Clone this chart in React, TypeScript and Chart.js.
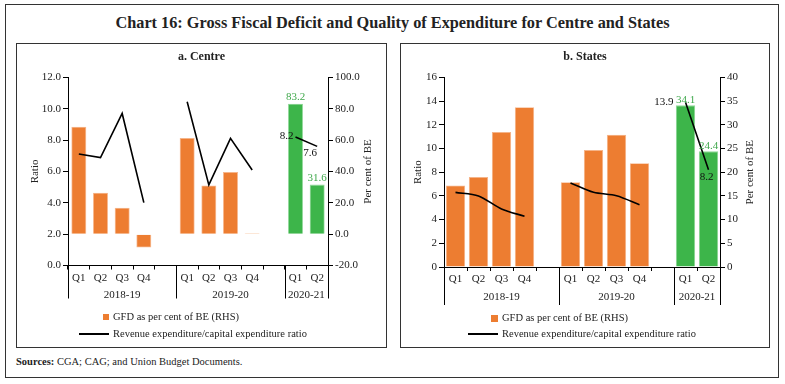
import React, { useEffect, useRef } from 'react';
import { Chart, registerables } from 'chart.js';

Chart.register(...registerables);

// ---------------- DATA ----------------
const quarters = ['Q1', 'Q2', 'Q3', 'Q4', '', 'Q1', 'Q2', 'Q3', 'Q4', '', 'Q1', 'Q2'];
const yearGroups = ['2018-19', '2019-20', '2020-21'];
const yearSpans = [5, 5, 2];

const centreGFD = [68.5, 26.4, 16.8, -8.5, null, 61.3, 31.1, 39.6, 0.6, null, 83.2, 31.6];
const centreRatio = [7.11, 6.88, 9.7, 4.01, null, 10.45, 5.14, 8.11, 6.09, null, 8.2, 7.6];

const statesGFD = [17.2, 19.0, 28.5, 33.7, null, 17.9, 24.7, 27.9, 21.9, null, 34.1, 24.4];
const statesRatio = [6.3, 6.0, 4.9, 4.28, null, 7.09, 6.3, 6.02, 5.26, null, 13.9, 8.2];

const centreLeftTicks = [0, 2, 4, 6, 8, 10, 12];
const centreRightTicks = [-20, 0, 20, 40, 60, 80, 100];
const statesLeftTicks = [0, 2, 4, 6, 8, 10, 12, 14, 16];
const statesRightTicks = [0, 5, 10, 15, 20, 25, 30, 35, 40];

const ORANGE = '#ED7D31';
const GREEN = '#3DB54A';
const GREEN_TEXT = '#3FA84B';
const FONT = "'Liberation Serif', 'Times New Roman', serif";

const barColors = quarters.map((_, i) => (i >= 10 ? GREEN : ORANGE));
const barBorders = quarters.map((_, i) => (i >= 10 ? '#8fd897' : '#f6b58a'));

type LineLabel = { i: number; dx: number; dy: number; align: CanvasTextAlign };

type PanelCfg = {
  title: string;
  gfd: (number | null)[];
  ratio: (number | null)[];
  leftTicks: number[];
  rightTicks: number[];
  leftDecimals: number;
  left: number;
  width: number;
  plotLeft: number;
  plotRight: number;
  plotBottom: number;
  barPct: number;
  tension: number;
  barLabelGap: number;
  lineLabels: LineLabel[];
  sepLen: number;
  yearY: number;
  leftTitlePad: number;
  rightTitleX: number;
  legendMarkerRight: number;
  legendSquare: number;
  legendY1: number;
  legendY2: number;
};

const PANEL_TOP = 43;
const PANEL_H = 305;

const groupPlugin = (cfg: PanelCfg) => ({
  id: 'groups',
  afterDraw(chart: any) {
    const ctx = chart.ctx as CanvasRenderingContext2D;
    const x = chart.scales.x;
    const area = chart.chartArea;
    const bounds: number[] = [0];
    yearSpans.forEach((s) => bounds.push(bounds[bounds.length - 1] + s));
    const px = (k: number) => {
      if (k <= 0) return x.left;
      if (k >= quarters.length) return x.right;
      return (x.getPixelForValue(k - 1) + x.getPixelForValue(k)) / 2;
    };
    ctx.save();
    ctx.strokeStyle = '#000';
    ctx.lineWidth = 1;
    bounds.forEach((k) => {
      const p = Math.round(px(k)) + 0.5;
      ctx.beginPath();
      ctx.moveTo(p, area.bottom);
      ctx.lineTo(p, area.bottom + cfg.sepLen);
      ctx.stroke();
    });
    ctx.fillStyle = '#222';
    ctx.font = `11px ${FONT}`;
    ctx.textAlign = 'center';
    ctx.textBaseline = 'middle';
    yearGroups.forEach((g, j) => {
      const c = (px(bounds[j]) + px(bounds[j + 1])) / 2;
      ctx.fillText(g, c, area.bottom + cfg.yearY);
    });

    // right axis title, reading bottom-to-top
    ctx.save();
    ctx.translate(cfg.rightTitleX, (area.top + area.bottom) / 2);
    ctx.rotate(-Math.PI / 2);
    ctx.textAlign = 'center';
    ctx.fillText('Per cent of BE', 0, 0);
    ctx.restore();

    // data labels
    const barMeta = chart.getDatasetMeta(0);
    ctx.fillStyle = GREEN_TEXT;
    [10, 11].forEach((i) => {
      const el = barMeta.data[i];
      const v = cfg.gfd[i];
      if (!el || v == null) return;
      ctx.textAlign = 'center';
      ctx.fillText(v.toFixed(1), el.x, el.y - cfg.barLabelGap);
    });
    const lineMeta = chart.getDatasetMeta(1);
    ctx.fillStyle = '#111';
    cfg.lineLabels.forEach((l) => {
      const el = lineMeta.data[l.i];
      const v = cfg.ratio[l.i];
      if (!el || v == null) return;
      ctx.textAlign = l.align;
      ctx.fillText(v.toFixed(1), el.x + l.dx, el.y + l.dy);
    });
    ctx.restore();
  },
});

function Panel({ cfg }: { cfg: PanelCfg }) {
  const ref = useRef<HTMLCanvasElement | null>(null);
  useEffect(() => {
    if (!ref.current) return;
    const tickFont = { family: FONT, size: 11 };
    const chart = new Chart(ref.current, {
      type: 'bar',
      data: {
        labels: quarters,
        datasets: [
          {
            type: 'bar',
            label: 'GFD as per cent of BE (RHS)',
            data: cfg.gfd as any,
            yAxisID: 'y1',
            backgroundColor: barColors,
            borderColor: barBorders,
            borderWidth: 0.8,
            barPercentage: cfg.barPct,
            categoryPercentage: 1,
            order: 2,
          } as any,
          {
            type: 'line',
            label: 'Revenue expenditure/capital expenditure ratio',
            data: cfg.ratio as any,
            yAxisID: 'y',
            borderColor: '#000',
            borderWidth: 1.6,
            pointRadius: 0,
            tension: cfg.tension,
            spanGaps: false,
            order: 1,
          } as any,
        ],
      },
      options: {
        animation: false,
        responsive: false,
        maintainAspectRatio: false,
        layout: { padding: 0 },
        plugins: {
          legend: { display: false },
          tooltip: { enabled: false },
          title: {
            display: true,
            text: cfg.title,
            color: '#222',
            font: { family: FONT, size: 12, weight: 'bold' },
            padding: { top: 7, bottom: 13 },
          },
        },
        scales: {
          x: {
            type: 'category',
            offset: true,
            grid: {
              offset: true,
              drawOnChartArea: false,
              drawTicks: true,
              tickLength: 4,
              color: '#000',
            },
            border: { color: '#000', width: 1 },
            ticks: {
              font: tickFont,
              color: '#222',
              padding: 2,
              maxRotation: 0,
              autoSkip: false,
            },
            afterFit: (s: any) => {
              s.height = PANEL_H - cfg.plotBottom;
            },
          },
          y: {
            position: 'left',
            min: cfg.leftTicks[0],
            max: cfg.leftTicks[cfg.leftTicks.length - 1],
            afterBuildTicks: (s: any) => {
              s.ticks = cfg.leftTicks.map((v) => ({ value: v }));
            },
            grid: { drawOnChartArea: false, drawTicks: true, tickLength: 5, color: '#000' },
            border: { color: '#000', width: 1 },
            ticks: {
              font: tickFont,
              color: '#222',
              padding: 2,
              callback: (v: any) => Number(v).toFixed(cfg.leftDecimals),
            },
            title: {
              display: true,
              text: 'Ratio',
              font: tickFont,
              color: '#222',
              padding: { top: cfg.leftTitlePad, bottom: 0 },
            },
            afterFit: (s: any) => {
              s.width = cfg.plotLeft;
            },
          },
          y1: {
            position: 'right',
            min: cfg.rightTicks[0],
            max: cfg.rightTicks[cfg.rightTicks.length - 1],
            afterBuildTicks: (s: any) => {
              s.ticks = cfg.rightTicks.map((v) => ({ value: v }));
            },
            grid: { drawOnChartArea: false, drawTicks: true, tickLength: 5, color: '#000' },
            border: { color: '#000', width: 1 },
            ticks: {
              font: tickFont,
              color: '#222',
              padding: 2,
              callback: (v: any) => Number(v).toFixed(cfg.leftDecimals),
            },
            afterFit: (s: any) => {
              s.width = cfg.width - cfg.plotRight;
            },
          },
        },
      } as any,
      plugins: [groupPlugin(cfg)],
    });
    return () => chart.destroy();
  }, [cfg]);

  const textStyle: React.CSSProperties = {
    position: 'absolute',
    left: cfg.legendMarkerRight + 4,
    fontFamily: FONT,
    fontSize: 10.5,
    color: '#222',
    whiteSpace: 'nowrap',
    lineHeight: '12px',
  };

  return (
    <div
      style={{
        position: 'absolute',
        left: cfg.left,
        top: PANEL_TOP,
        width: cfg.width,
        height: PANEL_H,
      }}
    >
      <canvas
        ref={ref}
        width={cfg.width}
        height={PANEL_H}
        style={{ position: 'absolute', left: 0, top: 0, width: cfg.width, height: PANEL_H }}
      />
      <div
        style={{
          position: 'absolute',
          left: 0,
          top: 0,
          width: cfg.width,
          height: PANEL_H,
          border: '1px solid #333',
          boxSizing: 'border-box',
          pointerEvents: 'none',
        }}
      />
      <div
        style={{
          position: 'absolute',
          left: cfg.legendMarkerRight - cfg.legendSquare,
          top: cfg.legendY1 - cfg.legendSquare / 2,
          width: cfg.legendSquare,
          height: cfg.legendSquare,
          background: ORANGE,
        }}
      />
      <div style={{ ...textStyle, top: cfg.legendY1 - 6 }}>GFD as per cent of BE (RHS)</div>
      <div
        style={{
          position: 'absolute',
          left: cfg.legendMarkerRight - 30,
          top: cfg.legendY2 - 1,
          width: 30,
          height: 2,
          background: '#000',
        }}
      />
      <div style={{ ...textStyle, top: cfg.legendY2 - 6 }}>
        Revenue expenditure/capital expenditure ratio
      </div>
    </div>
  );
}

const centreCfg: PanelCfg = {
  title: 'a. Centre',
  gfd: centreGFD,
  ratio: centreRatio,
  leftTicks: centreLeftTicks,
  rightTicks: centreRightTicks,
  leftDecimals: 1,
  left: 16,
  width: 371,
  plotLeft: 52,
  plotRight: 312,
  plotBottom: 222.5,
  barPct: 0.69,
  tension: 0,
  barLabelGap: 7,
  lineLabels: [
    { i: 10, dx: -2, dy: -1, align: 'right' },
    { i: 11, dx: -7, dy: 7, align: 'center' },
  ],
  sepLen: 33,
  yearY: 30,
  leftTitlePad: 13,
  rightTitleX: 352,
  legendMarkerRight: 93,
  legendSquare: 6,
  legendY1: 274,
  legendY2: 291,
};

const statesCfg: PanelCfg = {
  title: 'b. States',
  gfd: statesGFD,
  ratio: statesRatio,
  leftTicks: statesLeftTicks,
  rightTicks: statesRightTicks,
  leftDecimals: 0,
  left: 400,
  width: 370,
  plotLeft: 44,
  plotRight: 320,
  plotBottom: 224,
  barPct: 0.84,
  tension: 0.3,
  barLabelGap: 5,
  lineLabels: [
    { i: 10, dx: -12, dy: 0, align: 'right' },
    { i: 11, dx: -2, dy: 7, align: 'center' },
  ],
  sepLen: 38,
  yearY: 30,
  leftTitlePad: 12,
  rightTitleX: 350,
  legendMarkerRight: 98,
  legendSquare: 7,
  legendY1: 275,
  legendY2: 291,
};

export default function App() {
  return (
    <div
      style={{
        position: 'fixed',
        left: 0,
        top: 0,
        width: 785,
        height: 384,
        background: '#fff',
        fontFamily: FONT,
        overflow: 'hidden',
      }}
    >
      <div
        style={{
          position: 'absolute',
          left: 5,
          top: 4,
          width: 774,
          height: 374,
          border: '1px solid #333',
          boxSizing: 'border-box',
        }}
      />
      <div
        style={{
          position: 'absolute',
          left: 0,
          top: 13,
          width: 785,
          textAlign: 'center',
          fontSize: 16.3,
          fontWeight: 'bold',
          color: '#222',
          lineHeight: '20px',
        }}
      >
        Chart 16: Gross Fiscal Deficit and Quality of Expenditure for Centre and States
      </div>
      <Panel cfg={centreCfg} />
      <Panel cfg={statesCfg} />
      <div
        style={{
          position: 'absolute',
          left: 16,
          top: 355,
          fontSize: 10.5,
          color: '#222',
          lineHeight: '14px',
          whiteSpace: 'nowrap',
        }}
      >
        <b>Sources:</b> CGA; CAG; and Union Budget Documents.
      </div>
    </div>
  );
}
